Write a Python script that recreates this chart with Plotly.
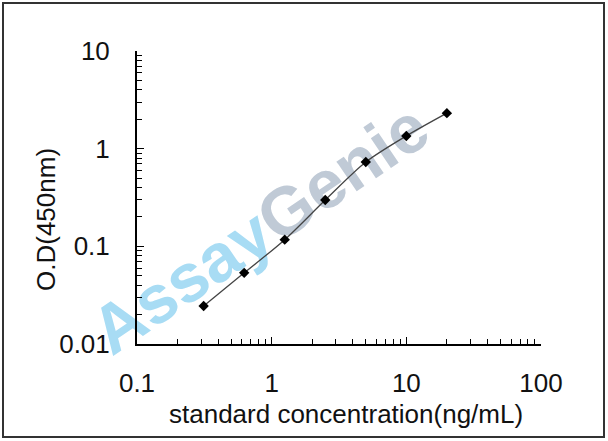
import plotly.graph_objects as go

# standard curve values
concentration = [0.3125, 0.625, 1.25, 2.5, 5, 10, 20]
od_450 = [0.0245, 0.0535, 0.117, 0.298, 0.73, 1.35, 2.31]

x_tick_vals = [0.1, 1, 10, 100]
x_tick_text = ["0.1", "1", "10", "100"]
y_tick_vals = [0.01, 0.1, 1, 10]
y_tick_text = ["0.01", "0.1", "1", "10"]

W, H = 608, 441
L, R, T, B = 137, 67, 51, 97
pw, ph = W - L - R, H - T - B

font = dict(family="Liberation Sans, Arial, sans-serif", size=26, color="#111111")


def px_to_paper(px, py):
    return (px - L) / pw, (H - B - py) / ph


fig = go.Figure()

# watermark: two label-only shapes kept below the data so the curve stays on top
for word, colour, cx, cy in [("Assay", "#a8dcf4", 178, 276), ("Genie", "#c0cad6", 339, 167)]:
    px0, py0 = px_to_paper(cx - 1, cy + 1)
    px1, py1 = px_to_paper(cx + 1, cy - 1)
    fig.add_shape(
        type="rect", xref="paper", yref="paper",
        x0=px0, x1=px1, y0=py0, y1=py1,
        line=dict(width=0), fillcolor="rgba(0,0,0,0)",
        layer="below",
        label=dict(
            text=word, textangle=-34, textposition="middle center",
            font=dict(family="Liberation Sans, Arial, sans-serif", size=68, color=colour, weight="bold"),
        ),
    )

fig.add_trace(go.Scatter(
    x=concentration, y=od_450,
    mode="lines+markers",
    line=dict(color="#444444", width=1.3, shape="spline", smoothing=0.8),
    marker=dict(symbol="diamond", size=8, color="#000000"),
    showlegend=False,
))

axis_common = dict(
    type="log",
    showgrid=False,
    zeroline=False,
    showline=True,
    linecolor="#000000",
    linewidth=2,
    ticks="inside",
    ticklen=7,
    tickwidth=1.3,
    tickcolor="#000000",
    tickfont=font,
    minor=dict(ticks="inside", ticklen=5, tickwidth=1.3, tickcolor="#000000", dtick="D1", showgrid=False),
)

fig.update_xaxes(
    **axis_common,
    range=[-1, 2],
    tickvals=x_tick_vals,
    ticktext=x_tick_text,
    ticklabelstandoff=15,
)
fig.update_yaxes(
    **axis_common,
    range=[-2, 1],
    tickvals=y_tick_vals,
    ticktext=y_tick_text,
    ticklabelstandoff=20,
)

# axis titles placed as annotations so they sit where the original has them
tx, ty = px_to_paper(346, 414)
fig.add_annotation(
    text="standard concentration(ng/mL)",
    x=tx, y=ty,
    xref="paper", yref="paper", showarrow=False,
    font=font, xanchor="center", yanchor="middle",
)
tx, ty = px_to_paper(46, 220)
fig.add_annotation(
    text="O.D(450nm)",
    x=tx, y=ty,
    xref="paper", yref="paper", showarrow=False,
    font=font, textangle=-90, xanchor="center", yanchor="middle",
)

# outer frame of the image
fx0, fy0 = px_to_paper(3, 437)
fx1, fy1 = px_to_paper(604, 3)
fig.add_shape(
    type="rect", xref="paper", yref="paper",
    x0=fx0, x1=fx1, y0=fy0, y1=fy1,
    line=dict(color="#333333", width=2),
)

fig.update_layout(
    width=W, height=H,
    margin=dict(l=L, r=R, t=T, b=B),
    paper_bgcolor="white",
    plot_bgcolor="white",
)

# drop the browser's default body margin so the chart sits at the page corner
fig.write_html(
    "out.html",
    config={"displayModeBar": False},
    post_script="document.body.style.margin='0';",
)
